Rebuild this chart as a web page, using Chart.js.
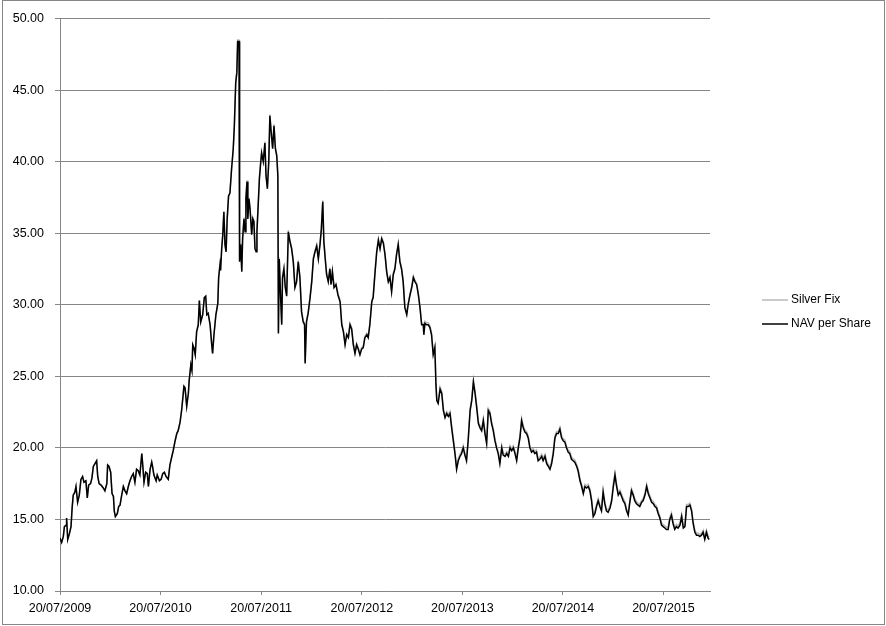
<!DOCTYPE html>
<html>
<head>
<meta charset="utf-8">
<script src="https://cdn.jsdelivr.net/npm/chart.js@4/dist/chart.umd.min.js"></script>
<style>
html,body{margin:0;padding:0;background:#fff;}
canvas{display:block;}
</style>
</head>
<body>
<canvas id="c" width="886" height="626"></canvas>
<script>
// Days elapsed since 20/07/2009 for each observation
const dayOffsets = [
0,6,12,16,22,24,28,34,40,44,
48,54,58,64,70,76,82,87,94,99,
104,111,116,121,127,133,137,142,149,157,
163,170,173,178,184,189,194,197,201,208,
213,218,224,230,236,242,248,254,260,266,
272,278,284,290,297,300,305,311,317,321,
327,333,336,341,349,353,361,367,373,379,
385,393,399,406,411,418,424,429,436,442,
445,450,454,460,466,469,475,479,482,486,
491,496,502,506,511,518,524,529,533,538,
545,551,554,559,566,573,576,581,583,587,
591,595,599,603,607,612,617,623,629,633,
638,642,645,650,652,656,660,663,668,672,
675,679,682,686,690,696,700,704,708,712,
715,719,724,729,732,738,744,748,753,758,
762,767,772,777,782,787,791,793,796,801,
805,808,813,818,823,829,835,841,847,853,
859,865,871,877,883,888,890,895,901,908,
914,920,926,932,938,944,949,954,958,963,
968,974,980,984,989,995,1002,1009,1017,1023,
1029,1035,1041,1047,1053,1059,1065,1071,1077,1083,
1089,1095,1101,1107,1114,1119,1125,1132,1137,1144,
1150,1156,1162,1168,1174,1180,1186,1192,1198,1204,
1210,1216,1222,1228,1234,1240,1246,1252,1259,1264,
1271,1277,1283,1289,1295,1301,1307,1313,1319,1321,
1325,1331,1337,1343,1349,1355,1361,1365,1368,1373,
1380,1386,1392,1398,1404,1410,1416,1422,1428,1434,
1440,1446,1452,1458,1464,1470,1476,1482,1489,1495,
1501,1507,1513,1519,1525,1531,1537,1543,1549,1555,
1561,1567,1573,1579,1585,1591,1597,1604,1609,1616,
1622,1628,1634,1640,1646,1652,1658,1664,1670,1676,
1682,1688,1694,1700,1706,1712,1718,1724,1730,1736,
1742,1749,1754,1761,1767,1773,1779,1785,1791,1797,
1803,1809,1815,1821,1827,1833,1839,1845,1851,1857,
1863,1869,1876,1881,1888,1894,1900,1906,1912,1918,
1924,1930,1936,1942,1948,1954,1960,1966,1972,1978,
1984,1990,1997,2003,2009,2015,2021,2027,2033,2039,
2045,2051,2057,2063,2069,2075,2081,2087,2093,2099,
2105,2112,2117,2124,2130,2136,2142,2148,2154,2160,
2166,2172,2178,2184,2190,2196,2202,2208,2214,2220,
2226,2232,2238,2244,2251,2257,2263,2269,2275,2281,
2287,2293,2299,2305,2311,2317,2323,2329,2335,2341,
2347,2353,2357
];

const navPerShare = [
13.7,13.4,13.8,14.5,14.6,15.1,13.6,14.0,14.5,15.8,
16.7,16.9,17.3,16.2,16.7,17.8,18.0,17.6,17.7,16.5,
17.4,17.5,17.9,18.7,18.9,19.1,18.0,17.5,17.4,17.2,
17.0,17.5,18.8,18.7,18.3,16.8,16.6,15.6,15.2,15.4,
15.9,16.0,16.7,17.3,17.0,16.8,17.3,17.7,18.0,18.2,
17.6,18.5,18.4,18.1,19.6,18.9,17.6,18.3,18.2,17.3,
18.5,19.0,18.7,18.1,17.7,18.1,17.7,17.8,18.2,18.3,
18.0,17.8,18.8,19.4,19.8,20.5,21.0,21.2,21.8,22.7,
23.3,24.3,24.2,22.9,23.8,24.7,25.8,25.4,27.2,27.0,
26.5,28.1,28.6,30.3,28.8,29.3,30.5,30.6,29.3,29.4,
28.6,27.2,26.6,27.9,29.3,30.1,31.9,32.8,32.4,33.9,
34.9,36.5,34.2,33.7,36.0,37.6,37.8,39.5,40.9,42.5,
45.5,46.2,48.4,48.4,33.0,34.2,32.3,34.6,36.0,35.1,
37.4,38.6,36.0,37.4,36.7,34.9,36.0,35.8,33.9,33.7,
35.1,36.7,38.8,40.0,40.6,40.0,41.3,39.0,38.1,40.0,
43.2,42.0,40.9,42.5,40.9,40.4,39.0,28.0,33.2,30.5,
28.6,31.9,32.5,31.2,30.6,35.1,34.4,33.9,33.0,31.2,
31.6,33.0,31.9,29.5,28.8,28.6,25.9,28.8,29.4,30.5,
31.6,33.2,33.7,34.1,33.2,34.2,35.3,37.2,34.4,33.2,
32.1,31.6,32.5,31.4,32.3,31.2,31.4,30.7,30.2,28.6,
28.1,27.2,27.9,27.7,28.6,28.3,27.2,26.6,27.2,26.9,
26.5,26.9,27.0,27.7,27.9,27.7,28.6,30.2,30.5,32.3,
33.7,34.5,33.9,34.6,34.3,33.5,32.3,31.6,31.9,30.9,
32.1,32.5,33.5,34.2,33.0,32.5,31.6,29.8,29.3,30.0,
30.7,31.2,31.9,31.6,31.4,30.7,29.8,28.6,28.6,27.9,
28.7,28.6,28.6,28.4,27.9,26.5,27.0,24.4,23.3,23.1,
24.1,23.8,22.6,22.1,22.4,22.2,22.4,21.4,20.5,19.6,
18.5,19.1,19.4,19.6,20.0,19.5,19.1,20.5,22.6,23.3,
24.6,23.8,22.8,21.7,21.4,21.2,21.9,21.0,20.3,22.6,
22.4,21.7,21.2,20.5,20.0,19.6,18.9,20.0,19.5,19.4,
19.6,19.4,20.0,19.8,20.0,19.6,19.1,20.0,20.7,21.9,
21.4,21.1,21.0,20.7,20.0,19.7,19.8,19.6,19.7,19.1,
19.2,19.4,19.1,19.4,18.9,18.7,18.5,18.9,19.6,20.7,
21.0,21.0,21.3,20.7,20.5,20.4,20.0,19.7,19.6,19.2,
19.1,19.0,18.7,18.4,17.7,17.3,16.8,17.3,17.2,17.3,
17.0,16.3,15.2,15.4,15.9,16.3,15.9,15.6,16.9,16.1,
15.6,15.5,15.8,16.3,17.3,18.1,17.3,16.7,16.9,16.6,
16.3,16.1,15.6,15.3,16.2,17.0,16.7,16.3,16.1,16.0,
15.9,16.2,16.3,16.7,17.3,16.8,16.5,16.2,16.1,15.9,
15.8,15.4,15.1,14.6,14.5,14.4,14.3,14.3,15.0,15.3,
14.7,14.3,14.5,14.4,14.6,15.2,14.4,14.5,15.9,15.9,
16.0,15.6,14.7,14.1,13.9,13.9,13.8,13.9,14.1,13.6,
14.1,13.7,13.6
];

const silverFix = [
13.7,13.4,13.8,14.5,14.6,15.1,13.6,14.0,14.5,15.8,
16.7,16.9,17.3,16.2,16.7,17.8,18.0,17.6,17.7,16.5,
17.4,17.5,17.9,18.7,18.9,19.1,18.0,17.5,17.4,17.2,
17.0,17.5,18.8,18.7,18.3,16.8,16.6,15.6,15.2,15.4,
15.9,16.0,16.7,17.3,17.0,16.8,17.3,17.7,18.0,18.2,
17.6,18.5,18.4,18.1,19.6,18.9,17.6,18.3,18.2,17.3,
18.5,19.0,18.7,18.1,17.7,18.1,17.7,17.8,18.2,18.3,
18.0,17.8,18.8,19.4,19.8,20.5,21.0,21.2,21.8,22.7,
23.3,24.3,24.2,22.9,23.8,24.7,25.8,25.4,27.2,27.0,
26.5,28.1,28.6,30.3,28.8,29.3,30.5,30.6,29.3,29.4,
28.6,27.2,26.6,27.9,29.3,30.1,31.9,32.8,32.4,33.9,
34.9,36.5,34.2,33.7,36.0,37.6,37.8,39.5,40.9,42.5,
45.6,46.3,48.5,48.5,33.1,34.3,32.4,34.7,36.1,35.2,
37.5,38.7,36.1,37.5,36.8,35.0,36.1,35.9,34.0,33.8,
35.2,36.8,38.9,40.1,40.7,40.1,41.4,39.1,38.2,40.1,
43.3,42.1,41.0,42.6,41.0,40.5,39.1,28.1,33.3,30.6,
28.7,32.0,32.6,31.3,30.7,35.2,34.5,34.0,33.1,31.3,
31.7,33.1,32.0,29.6,28.9,28.7,26.0,28.9,29.5,30.6,
31.7,33.3,33.8,34.2,33.3,34.3,35.4,37.3,34.5,33.3,
32.2,31.7,32.6,31.5,32.4,31.3,31.5,30.8,30.3,28.7,
28.2,27.3,28.0,27.8,28.7,28.4,27.3,26.7,27.3,27.0,
26.6,27.0,27.1,27.8,28.0,27.8,28.7,30.3,30.6,32.4,
33.8,34.6,34.0,34.7,34.4,33.6,32.4,31.7,32.0,31.0,
32.2,32.6,33.6,34.3,33.1,32.6,31.7,29.9,29.4,30.1,
30.8,31.3,32.0,31.7,31.5,30.8,29.9,28.7,28.7,28.0,
28.85,28.75,28.75,28.55,28.05,26.65,27.15,24.55,23.45,23.25,
24.25,23.95,22.75,22.25,22.55,22.35,22.55,21.55,20.65,19.75,
18.65,19.25,19.55,19.75,20.15,19.65,19.25,20.65,22.75,23.45,
24.75,23.95,22.95,21.85,21.55,21.35,22.05,21.15,20.45,22.75,
22.55,21.85,21.35,20.65,20.15,19.75,19.05,20.15,19.65,19.55,
19.75,19.55,20.15,19.95,20.15,19.75,19.25,20.15,20.85,22.05,
21.55,21.25,21.15,20.85,20.15,19.85,19.95,19.75,19.85,19.25,
19.35,19.55,19.25,19.55,19.05,18.85,18.65,19.05,19.75,20.85,
21.15,21.15,21.45,20.85,20.65,20.55,20.15,19.85,19.75,19.35,
19.25,19.15,18.85,18.55,17.85,17.45,16.95,17.45,17.35,17.45,
17.15,16.45,15.35,15.55,16.05,16.45,16.05,15.75,17.05,16.25,
15.75,15.65,15.95,16.45,17.45,18.25,17.45,16.85,17.05,16.75,
16.45,16.25,15.75,15.45,16.35,17.15,16.85,16.45,16.25,16.15,
16.05,16.35,16.45,16.85,17.45,16.95,16.65,16.35,16.25,16.05,
15.95,15.55,15.25,14.75,14.65,14.55,14.45,14.45,15.15,15.45,
14.85,14.45,14.65,14.55,14.75,15.35,14.55,14.65,16.05,16.05,
16.15,15.75,14.85,14.25,14.05,14.05,13.95,14.05,14.25,13.75,
14.25,13.85,13.75
];

const seriesNames = ['Silver Fix', 'NAV per Share'];
const tickDays = [0, 365, 730, 1096, 1461, 1826, 2191];
const tickLabels = ['20/07/2009','20/07/2010','20/07/2011','20/07/2012','20/07/2013','20/07/2014','20/07/2015'];
const yMin = 10, yMax = 50, yStep = 5;

const GRID = '#868686';
Chart.defaults.font.family = '"Liberation Sans", Arial, sans-serif';
Chart.defaults.font.size = 12.5;
Chart.defaults.color = '#000';

const framePlugin = {
  id: 'frame',
  beforeDraw(chart) {
    const ctx = chart.ctx;
    ctx.save();
    ctx.fillStyle = '#fff';
    ctx.fillRect(0, 0, chart.width, chart.height);
    ctx.strokeStyle = GRID;
    ctx.lineWidth = 1;
    ctx.strokeRect(2.5, 0.5, 882, 624);
    ctx.restore();
  },
  afterDraw(chart) {
    const ctx = chart.ctx;
    ctx.save();
    ctx.font = '12px "Liberation Sans", Arial, sans-serif';
    ctx.textBaseline = 'middle';
    ctx.fillStyle = '#000';
    chart.data.datasets.forEach((ds, i) => {
      const y = 300 + i * 24;
      ctx.strokeStyle = ds.borderColor;
      ctx.lineWidth = ds.borderWidth;
      ctx.beginPath();
      ctx.moveTo(762, y);
      ctx.lineTo(788, y);
      ctx.stroke();
      ctx.fillText(ds.label, 791, y);
    });
    ctx.restore();
  }
};

new Chart(document.getElementById('c'), {
  type: 'line',
  data: {
    datasets: [
      {
        label: seriesNames[0],
        data: dayOffsets.map((d, i) => ({x: d, y: silverFix[i]})),
        borderColor: '#b8b8b8',
        borderWidth: 1.5,
        pointRadius: 0,
        tension: 0,
        order: 2
      },
      {
        label: seriesNames[1],
        data: dayOffsets.map((d, i) => ({x: d, y: navPerShare[i]})),
        borderColor: '#000000',
        borderWidth: 1.5,
        pointRadius: 0,
        tension: 0,
        order: 1
      }
    ]
  },
  options: {
    responsive: false,
    animation: false,
    devicePixelRatio: 1,
    layout: { padding: { left: 0, top: 15, right: 176, bottom: 0 } },
    plugins: { legend: { display: false }, tooltip: { enabled: false } },
    scales: {
      x: {
        type: 'linear',
        min: 0,
        max: 2360,
        afterBuildTicks(scale) { scale.ticks = tickDays.map(v => ({value: v})); },
        afterFit(scale) { scale.height = 35; },
        ticks: {
          autoSkip: false,
          maxRotation: 0,
          padding: 6,
          callback: (v, i) => tickLabels[i]
        },
        grid: { drawOnChartArea: false, drawTicks: true, tickLength: 4, color: GRID },
        border: { color: GRID }
      },
      y: {
        min: yMin,
        max: yMax,
        afterFit(scale) { scale.width = 60; },
        ticks: {
          stepSize: yStep,
          padding: 11,
          callback: v => v.toFixed(2)
        },
        grid: { color: GRID, tickLength: 5 },
        border: { color: GRID }
      }
    }
  },
  plugins: [framePlugin]
});
</script>
</body>
</html>
